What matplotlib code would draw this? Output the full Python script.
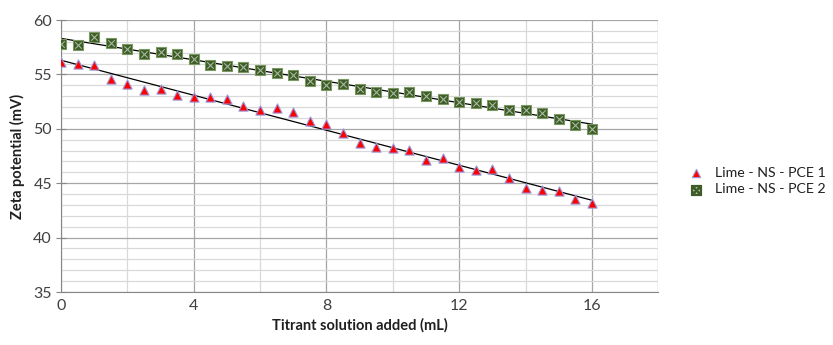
import matplotlib
matplotlib.use("Agg")
import matplotlib.pyplot as plt
import numpy as np
from matplotlib.ticker import MultipleLocator

plt.rcParams["font.family"] = ["Lato", "DejaVu Sans"]

# titrant volume (mL)
volume = [0, 0.5, 1, 1.5, 2, 2.5, 3, 3.5, 4, 4.5, 5, 5.5, 6, 6.5, 7, 7.5, 8,
          8.5, 9, 9.5, 10, 10.5, 11, 11.5, 12, 12.5, 13, 13.5, 14, 14.5, 15,
          15.5, 16]

# zeta potential (mV)
pce1 = [56.1, 55.95, 55.9, 54.55, 54.15, 53.6, 53.7, 53.1, 52.9, 52.9, 52.7,
        52.1, 51.7, 51.9, 51.5, 50.7, 50.45, 49.6, 48.7, 48.3, 48.2, 48.05,
        47.1, 47.35, 46.5, 46.2, 46.3, 45.45, 44.6, 44.4, 44.25, 43.55, 43.2]
pce2 = [57.8, 57.7, 58.45, 57.9, 57.3, 56.9, 57.05, 56.9, 56.4, 55.9, 55.8,
        55.7, 55.4, 55.1, 54.9, 54.4, 54.0, 54.1, 53.65, 53.35, 53.3, 53.35,
        53.0, 52.7, 52.45, 52.4, 52.2, 51.7, 51.7, 51.45, 50.9, 50.35, 50.0]

labels = ["Lime - NS - PCE 1", "Lime - NS - PCE 2"]

fig = plt.figure(figsize=(8.33, 3.45), dpi=100)
ax = fig.add_axes([0.0732, 0.1536, 0.7170, 0.7884])

x = np.array(volume)

# linear trendlines
for ys in (pce1, pce2):
    k, b = np.polyfit(x, ys, 1)
    ax.plot([x[0], x[-1]], [k * x[0] + b, k * x[-1] + b], color="black",
            lw=0.9, zorder=2)

ax.scatter(x, pce1, marker="^", s=44, facecolor="#ff0000",
           edgecolor="#9999dd", linewidth=0.8, zorder=3)
ax.scatter(x, pce2, marker="s", s=48, facecolor="#3d5c27",
           edgecolor="#7a9a62", linewidth=0.8, zorder=3)
ax.scatter(x, pce2, marker="x", s=22, color="#a8b8a0", linewidth=0.8,
           zorder=4)

# legend proxies
h1 = ax.scatter([], [], marker="^", s=36, facecolor="#ff0000",
                edgecolor="#9999dd", linewidth=0.8)
h2 = ax.scatter([], [], marker="$\\boxtimes$", s=50, color="#3d5c27")

ax.set_xlim(0, 18)
ax.set_ylim(35, 60)
ax.xaxis.set_minor_locator(MultipleLocator(2))
ax.yaxis.set_major_locator(MultipleLocator(5))
ax.yaxis.set_minor_locator(MultipleLocator(1))
ax.set_xticks([0, 4, 8, 12, 16])

ax.grid(which="major", color="#a6a6a6", lw=0.9)
ax.grid(which="minor", color="#d9d9d9", lw=0.9)
ax.set_axisbelow(True)
# extra vertical line at x=18
ax.axvline(18, color="#a6a6a6", lw=0.9, zorder=0)

for side in ("top", "right"):
    ax.spines[side].set_visible(False)
for side in ("left", "bottom"):
    ax.spines[side].set_color("#868686")

ax.tick_params(axis="y", which="major", direction="inout", length=7,
               color="#868686", labelsize=11.5, labelcolor="#404040", pad=3)
ax.tick_params(axis="y", which="minor", length=0)
ax.tick_params(axis="x", which="both", length=0, labelsize=11.5,
               labelcolor="#404040", pad=5)

ax.set_xlabel("Titrant solution added (mL)", fontsize=10.5,
              fontweight="bold", color="#202020", labelpad=4)
ax.set_ylabel("Zeta potential (mV)", fontsize=10.5, fontweight="bold",
              color="#202020", labelpad=6)

fig.legend([h1, h2], labels, loc="center left",
           bbox_to_anchor=(0.829, 0.475), frameon=False, fontsize=10.2,
           handlelength=0.8, handletextpad=0.9, labelspacing=0.3,
           borderpad=0, borderaxespad=0, labelcolor="#202020")

fig.savefig("out.png", dpi=100)
